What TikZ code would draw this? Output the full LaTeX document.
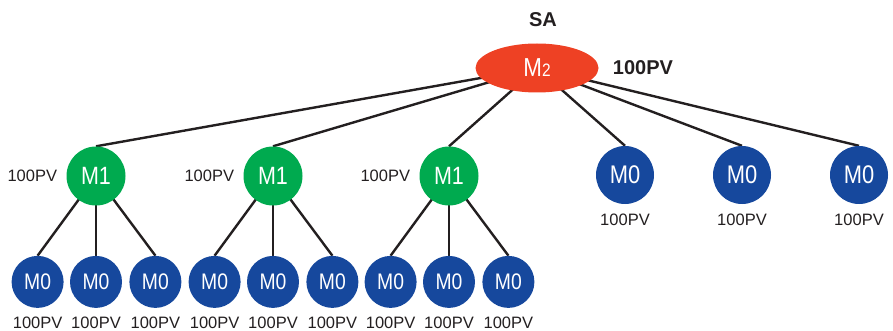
\documentclass[tikz,border=0pt]{standalone}
\usepackage{fontspec}
\setmainfont{Liberation Sans}
\newfontfamily\narrowfont[FakeStretch=0.86]{Liberation Sans}
\usetikzlibrary{shapes, positioning, backgrounds}
\definecolor{mred}{RGB}{238,65,36}
\definecolor{mgreen}{RGB}{0,170,79}
\definecolor{mblue}{RGB}{22,72,157}
\definecolor{ink}{RGB}{35,31,32}

\begin{document}
\begin{tikzpicture}[x=1pt, y=-1pt, node distance=10pt and 9pt,
		lvltwo/.style={ellipse, fill=mred, minimum width=123pt, minimum height=49pt, inner sep=0pt, text=white, font=\narrowfont\fontsize{26}{26}\selectfont},
		lvlone/.style={circle, fill=mgreen, minimum size=59pt, inner sep=0pt, text=white, font=\narrowfont\fontsize{25}{25}\selectfont},
		lvlzero/.style={circle, fill=mblue, minimum size=58pt, inner sep=0pt, text=white, font=\narrowfont\fontsize{25.5}{25.5}\selectfont},
		leaf/.style={circle, fill=mblue, minimum size=52pt, inner sep=0pt, text=white, font=\narrowfont\fontsize{22.5}{22.5}\selectfont},
		pv/.style={text=ink, inner sep=0pt, font=\fontsize{16.5}{16.5}\selectfont},
		bigpv/.style={text=ink, inner sep=0pt, font=\bfseries\fontsize{20}{20}\selectfont},
		link/.style={draw=ink, line width=2.4pt}]
	\useasboundingbox (0,0) rectangle (893,331);
	% top
	\node[lvltwo] (m2) at (537,68) {M{\fontsize{18}{18}\selectfont 2}};
	\node[bigpv] (sa) at (543,20) {SA};
	\node[bigpv, right=14pt of m2] (m2pv) {100PV};
	% second row
	\foreach \g/\x in {a/96,b/273,c/449} {
		\node[lvlone] (m1\g) at (\x,176) {M1};
		\node[pv, left=of m1\g] (m1\g pv) {100PV};
		\node[leaf, below=50pt of m1\g] (\g2) {M0};
		\node[leaf, left=6pt of \g2] (\g1) {M0};
		\node[leaf, right=7pt of \g2] (\g3) {M0};
		\foreach \i in {1,2,3}
			\node[pv, below=9pt of \g\i] (\g\i pv) {100PV};
	}
	\foreach \g/\x in {a/625,b/742,c/859} {
		\node[lvlzero] (m0\g) at (\x,175) {M0};
		\node[pv, below=of m0\g] (m0\g pv) {100PV};
	}
	% links
	\begin{pgfonlayer}{background}
		\foreach \to in {m1a,m1b,m1c,m0a,m0b,m0c}
			\draw[link] (m2.center) -- (\to.north);
		\foreach \from/\to in {m1a/a1,m1a/a2,m1a/a3,m1b/b1,m1b/b2,m1b/b3,m1c/c1,m1c/c2,m1c/c3}
			\draw[link] (\from.center) -- (\to.north);
	\end{pgfonlayer}
\end{tikzpicture}
\end{document}
